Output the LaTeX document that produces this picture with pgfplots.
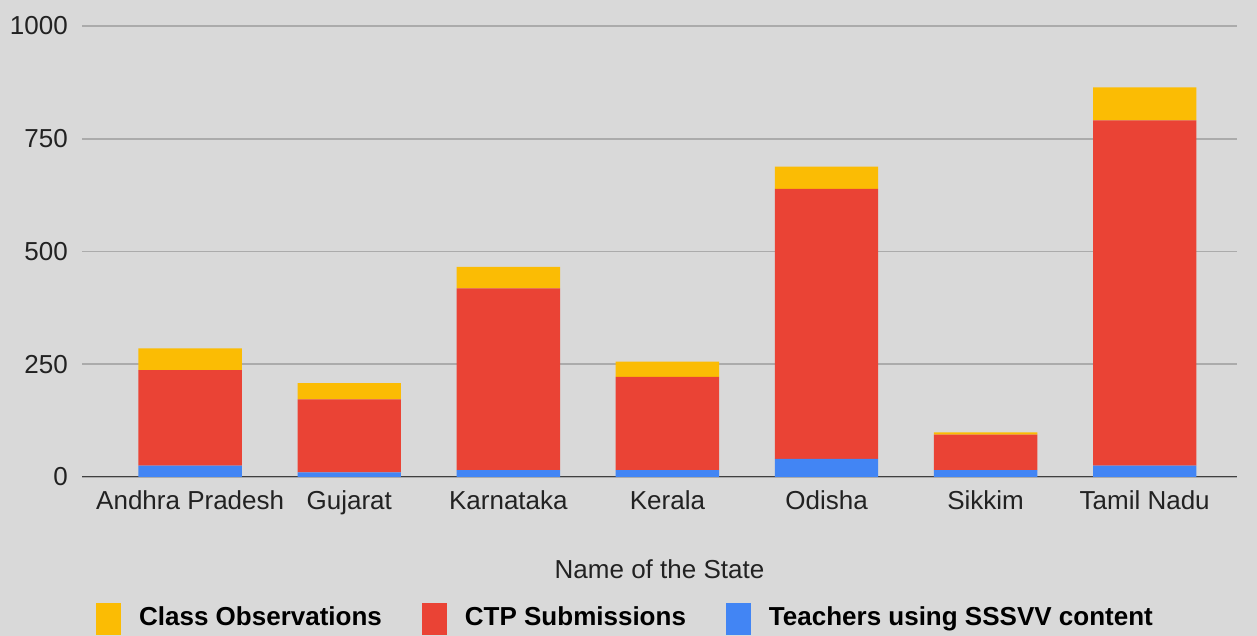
\documentclass[border=0pt]{standalone}
\usepackage{pgfplots}
\pgfplotsset{compat=1.18}
\usepackage{fontspec}
\setmainfont{Liberation Sans}
\definecolor{bg}{HTML}{D9D9D9}
\definecolor{cy}{HTML}{FBBC04}
\definecolor{cr}{HTML}{EA4335}
\definecolor{cb}{HTML}{4285F4}
\definecolor{gridc}{HTML}{ABABAB}
\definecolor{txt}{HTML}{222222}
\begin{document}
\begin{tikzpicture}
\fill[bg] (0pt,0pt) rectangle (1257pt,636pt);
\path[use as bounding box] (0pt,0pt) rectangle (1257pt,636pt);
\begin{axis}[
  at={(82pt,159pt)}, anchor=south west,
  scale only axis, width=1155pt, height=451pt,
  xmin=-0.68, xmax=6.58, ymin=0, ymax=1000,
  ybar stacked, bar width=0.65,
  xtick={0,1,2,3,4,5,6},
  xticklabels={Andhra Pradesh, Gujarat, Karnataka, Kerala, Odisha, Sikkim, Tamil Nadu},
  ytick={0,250,500,750,1000},
  ymajorgrids, grid style={gridc, line width=1.6pt},
  axis line style={draw=none},
  major tick length=0pt,
  /pgf/number format/assume math mode=true,
  /pgf/number format/1000 sep={},
  tick label style={font=\fontsize{26}{31}\selectfont, text=txt},
  yticklabel style={anchor=east, inner sep=0pt, xshift=-14pt},
  xticklabel style={anchor=north, inner sep=0pt, yshift=-13pt},
  xlabel={Name of the State},
  xlabel style={font=\fontsize{26}{31}\selectfont, text=txt, at={(axis description cs:0.5,0)}, anchor=north, inner sep=0pt, yshift=-82pt},
  legend columns=3,
  legend image code/.code={\fill[#1, draw=none] (0pt,-18pt) rectangle (25pt,14pt);},
  legend style={draw=none, fill=none, at={(0.5,0)}, anchor=center, yshift=-142pt, xshift=-35pt,
    font=\bfseries\fontsize{26}{31}\selectfont, text=black,
    nodes={inner sep=0pt},
    /tikz/every odd column/.append style={column sep=18pt},
    /tikz/every even column/.append style={column sep=40pt}},
]
\addplot[fill=cb, draw=none, forget plot] coordinates {(0,25)(1,10)(2,15)(3,15)(4,40)(5,15)(6,25)};
\addplot[fill=cr, draw=none, forget plot] coordinates {(0,212)(1,162)(2,403)(3,207)(4,599)(5,79)(6,766)};
\addplot[fill=cy, draw=none, forget plot] coordinates {(0,48)(1,36)(2,48)(3,34)(4,49)(5,5)(6,73)};
\draw[black!75, line width=1.6pt] (rel axis cs:0,0) -- (rel axis cs:1,0);
\addlegendimage{fill=cy, draw=none}
\addlegendentry{Class Observations}
\addlegendimage{fill=cr, draw=none}
\addlegendentry{CTP Submissions}
\addlegendimage{fill=cb, draw=none}
\addlegendentry{Teachers using SSSVV content}
\end{axis}
\end{tikzpicture}
\end{document}
